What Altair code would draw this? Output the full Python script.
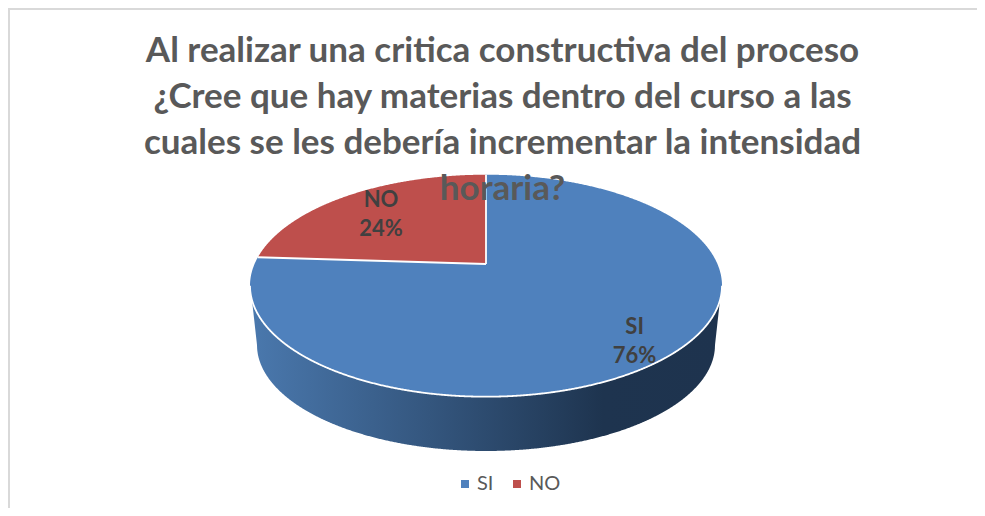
import numpy as np
import pandas as pd
import altair as alt

categories = ["SI", "NO"]
values = [76, 24]
colors = ["#4F81BD", "#BE4F4C"]
title_lines = [
    "Al realizar una critica constructiva del proceso",
    "¿Cree que hay materias dentro del curso a las",
    "cuales se les debería incrementar la intensidad",
    "horaria?",
]

W, H = 969, 500
CX, CY, RX, RY = 486.0, 285.7, 236.0, 111.0   # top face ellipse
AX, AY = 486.0, 264.0                         # wedge apex (perspective shifted)
BY, BRX, BRY = 345.0, 229.0, 106.0            # bottom rim ellipse
WALL_RX = 234.0


def edge_point(deg):
    """Where a slice boundary (degrees clockwise from 12 o'clock) meets the rim."""
    a = np.radians(deg)
    dx, dy = np.sin(a) * RX, -np.cos(a) * RY
    px, py = (AX - CX) / RX, (AY - CY) / RY
    qx, qy = dx / RX, dy / RY
    A, B, C = qx**2 + qy**2, 2 * (px * qx + py * qy), px**2 + py**2 - 1
    t = (-B + np.sqrt(B**2 - 4 * A * C)) / (2 * A)
    return AX + t * dx, AY + t * dy


total = sum(values)
split_deg = 360 * values[0] / total
ex, ey = edge_point(split_deg)

ts = np.linspace(np.pi, 0, 721)
ell_x = CX + RX * np.cos(ts)
ell_top = CY - RY * np.sin(ts)
ell_bot = CY + RY * np.sin(ts)


def boundary_y(x):
    return AY + (x - AX) * (ey - AY) / (ex - AX)


# Slice faces
rows = []
for x, top, bot in zip(ell_x, ell_top, ell_bot):
    if x <= ex:
        upper = top
    elif x <= AX:
        upper = boundary_y(x)
    else:
        upper = top
    rows.append(dict(cat=categories[0], x=x, y=upper, y2=bot))
rows.append(dict(cat=categories[0], x=AX + 1e-3, y=CY - RY, y2=CY + RY))
rows.append(dict(cat=categories[0], x=AX, y=AY, y2=CY + RY))
red_x = np.concatenate([[ex], ell_x[(ell_x > ex) & (ell_x < AX)], [AX]])
for x in red_x:
    rows.append(dict(cat=categories[1], x=x,
                     y=CY - RY * np.sqrt(max(0, 1 - ((x - CX) / RX) ** 2)),
                     y2=boundary_y(x)))
faces = pd.DataFrame(rows).sort_values("x", kind="stable")

# Side wall
wall_t = np.linspace(np.pi, 0, 721)
wx = np.sort(np.concatenate([CX + WALL_RX * np.cos(wall_t), [CX - BRX, CX + BRX]]))
wtop = CY + RY * np.sqrt(np.clip(1 - ((wx - CX) / RX) ** 2, 0, 1))
wbot = np.where(
    np.abs(wx - CX) <= BRX,
    BY + BRY * np.sqrt(np.clip(1 - ((wx - CX) / BRX) ** 2, 0, 1)),
    np.interp(np.abs(wx - CX), [BRX, WALL_RX],
              [BY, CY + RY * np.sqrt(1 - (WALL_RX / RX) ** 2)]),
)
wall = pd.DataFrame(dict(x=wx, y=wtop, y2=wbot))

# White edges
seg = [pd.DataFrame(dict(seg="rim", i=range(len(ell_x)), x=ell_x, y=ell_bot)),
       pd.DataFrame(dict(seg="w1", i=[0, 1], x=[AX, AX], y=[AY, CY - RY])),
       pd.DataFrame(dict(seg="w2", i=[0, 1], x=[AX, ex], y=[AY, ey]))]
edges = pd.concat(seg, ignore_index=True)

# Labels at each slice's mid angle
label_frac = [0.92, 0.65]
labels = []
start = 0.0
for c, v, f in zip(categories, values, label_frac):
    mid = np.radians(start + 180 * v / total)
    labels.append(dict(x=AX + f * np.sin(mid) * RX,
                       y=AY - f * np.cos(mid) * RY,
                       text=f"{c}\n{round(100 * v / total)}%"))
    start += 360 * v / total
labels = pd.DataFrame(labels)

xs = alt.Scale(domain=[8, 8 + W], nice=False, zero=False)
ys = alt.Scale(domain=[8 + H, 8], nice=False, zero=False)
X = alt.X("x:Q", scale=xs, axis=None)
Y = alt.Y("y:Q", scale=ys, axis=None, stack=None)

wall_layer = alt.Chart(wall).mark_area(
    color=alt.Gradient(
        gradient="linear", x1=0, x2=1, y1=0, y2=0,
        stops=[
            alt.GradientStop(offset=0, color="#4A78AD"),
            alt.GradientStop(offset=0.38, color="#34567E"),
            alt.GradientStop(offset=0.75, color="#1E344F"),
            alt.GradientStop(offset=1, color="#1E334E"),
        ],
    )
).encode(x=X, y=Y, y2="y2:Q")

face_layer = alt.Chart(faces).mark_area().encode(
    x=X, y=Y, y2="y2:Q",
    color=alt.Color(
        "cat:N",
        scale=alt.Scale(domain=categories, range=colors),
        legend=alt.Legend(
            title=None, orient="none", direction="horizontal",
            legendX=447, legendY=466, symbolType="square", symbolSize=64,
            symbolStrokeWidth=0, labelFont="Lato", labelFontSize=20,
            labelColor="#595959", columnPadding=13, labelOffset=2,
        ),
    ),
)

edge_layer = alt.Chart(edges).mark_line(color="white", strokeWidth=1.8).encode(
    x=X, y=Y, detail="seg:N", order="i:Q"
)

label_layer = alt.Chart(labels).mark_text(
    font="Lato", fontWeight="bold", fontSize=22, color="#404040",
    lineBreak="\n", lineHeight=29, baseline="middle", dy=-11,
).encode(x=X, y=alt.Y("y:Q", scale=ys, axis=None), text="text:N")

border_left = alt.Chart(pd.DataFrame({"a": [0]})).mark_rule(
    color="#D9D9D9", strokeWidth=2
).encode(x=alt.value(1), y=alt.value(0), y2=alt.value(H))
border_top = alt.Chart(pd.DataFrame({"a": [0]})).mark_rule(
    color="#D9D9D9", strokeWidth=2
).encode(x=alt.value(0), x2=alt.value(W), y=alt.value(1))

chart = alt.layer(
    border_left, border_top, wall_layer, face_layer, edge_layer, label_layer
).properties(
    width=W, height=H,
    padding=0,
    autosize=alt.AutoSizeParams(type="none"),
    title=alt.TitleParams(
        text=title_lines, anchor="middle", frame="group", offset=-200,
        dx=10, font="Lato", fontSize=35, fontWeight="bold", color="#595959",
        lineHeight=46,
    ),
).configure_view(stroke=None).configure(background="white")

chart.save("out.html", embed_options={"renderer": "svg", "actions": False})
